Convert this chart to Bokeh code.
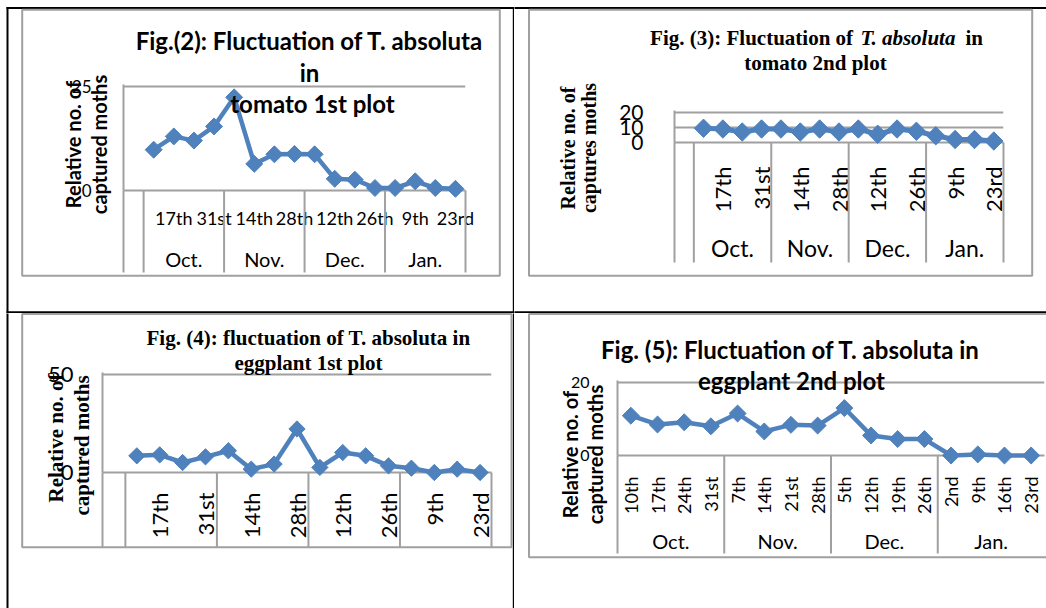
import numpy as np
from bokeh.plotting import figure
from bokeh.models import (FactorRange, Range1d, FixedTicker, Plot,
                          ColumnDataSource, CustomJSTickFormatter)
from bokeh.core.properties import value
from bokeh.layouts import column, row
from bokeh.embed import file_html
from bokeh.resources import INLINE

# ---------------- data ----------------
months = ["Oct.", "Nov.", "Dec.", "Jan."]
dates = ["10th", "17th", "24th", "31st", "7th", "14th", "21st", "28th",
         "5th", "12th", "19th", "26th", "2nd", "9th", "16th", "23rd"]
date_month = ["Oct."] * 4 + ["Nov."] * 4 + ["Dec."] * 4 + ["Jan."] * 4
shown_dates = ["17th", "31st", "14th", "28th", "12th", "26th", "9th", "23rd"]

tomato_1st = [9.8, 13.0, 12.0, 15.4, 22.4, 6.4, 8.7, 8.8, 8.7, 2.8, 2.6, 0.6, 0.6, 2.2, 0.6, 0.4]
tomato_2nd = [9.5, 9.0, 7.0, 9.0, 9.0, 7.0, 9.0, 7.0, 9.0, 5.5, 9.0, 7.5, 4.5, 2.0, 2.0, 1.0]
eggplant_1st = [8.5, 9.0, 5.1, 8.0, 11.1, 1.7, 4.3, 22.2, 2.6, 10.2, 8.5, 3.4, 2.2, 0.0, 1.7, 0.0]
eggplant_2nd = [10.9, 8.5, 9.1, 8.0, 11.5, 6.6, 8.4, 8.2, 13.0, 5.5, 4.5, 4.5, 0.0, 0.3, 0.0, 0.0]

yticks_tomato_1st = [0, 25]
yticks_tomato_2nd = [0, 10, 20]
yticks_eggplant_1st = [0, 50]
yticks_eggplant_2nd = [0, 20]

BLUE = "#4F81BD"
GRAY = "#a0a0a0"
SANS = "Lato"
SERIF = "Liberation Serif"

ALIGN_KW = {"frame_align": False} if "frame_align" in Plot.properties() else {}


def build(cfg):
    W, H = cfg["size"]
    fl, ft, fr, fb = cfg["frame"]
    ft_draw = ft - 2  # frame starts 2px above the top gridline so it is not clipped
    lead = [(" ", " ")] if cfg["blank"] else []
    cats = list(zip(date_month, dates))
    factors = lead + cats
    n = len(factors)
    xr = FactorRange(factors=factors, factor_padding=0, subgroup_padding=0,
                     group_padding=0, range_padding=0)
    yt = cfg["yticks"]
    ppu = (fb - ft) / (yt[-1] - yt[0])
    yr = Range1d(yt[0], yt[-1] + 2.0 / ppu)
    p = figure(width=W, height=H, x_range=xr, y_range=yr, output_backend="svg",
               toolbar_location=None, min_border_left=fl, min_border_right=W - fr,
               min_border_top=ft_draw, min_border_bottom=H - fb, **ALIGN_KW)
    p.outline_line_color = None
    p.background_fill_color = "white"
    p.border_fill_color = "white"
    # pixel-space y range for page furniture (frames, titles) around the plot area
    p.extra_y_ranges = {"py": Range1d(fb, ft_draw)}
    pxu = (fr - fl) / n  # pixels per category

    def X(cx):  # canvas pixel -> synthetic category coordinate
        return (cx - fl) / pxu

    def box(l, t, r, b, fill=None, line=None, lw=1):
        p.quad(left=[X(l)], right=[X(r)], top=[t], bottom=[b], y_range_name="py",
               fill_color=fill if fill else "white", fill_alpha=1 if fill else 0,
               line_color=line, line_width=lw, level="overlay")

    def text(t, cx, cy, font, size, style="bold", align="center", angle=0.0):
        p.text(x=[X(cx)], y=[cy], text=[t], y_range_name="py",
               text_font=value(font), text_font_size=value(f"{size}px"),
               text_font_style=value(style), text_color="black", text_align=value(align),
               text_baseline=value("middle"), angle=angle, level="overlay")

    # table lines and chart-area frame
    for (l, t, r, b) in cfg["black"]:
        box(l, t, r, b, fill="black")
    box(*cfg["chart_frame"], line=GRAY, lw=2)

    # grid / axes
    p.xgrid.visible = False
    p.ygrid.ticker = FixedTicker(ticks=yt[1:])
    p.ygrid.grid_line_color = GRAY
    p.ygrid.grid_line_width = 2

    yax = p.yaxis[0]
    yax.ticker = FixedTicker(ticks=yt)
    yax.axis_line_color = GRAY
    yax.axis_line_width = 2
    yax.major_tick_line_color = None
    yax.minor_tick_line_color = None
    yax.major_label_text_font = SANS
    yax.major_label_text_font_size = f"{cfg['ytick_size']}px"
    yax.major_label_text_color = "black"
    yax.major_label_standoff = cfg["ytick_standoff"]

    xax = p.xaxis[0]
    xax.axis_line_color = GRAY
    xax.axis_line_width = 2
    xax.major_tick_line_color = None
    xax.minor_tick_line_color = None
    xax.major_label_orientation = cfg["orient"]
    xax.major_label_text_font = SANS
    xax.major_label_text_font_size = f"{cfg['xtick_size']}px"
    xax.major_label_text_color = "black"
    xax.major_label_standoff = cfg["xtick_standoff"]
    xax.group_text_color = None
    xax.separator_line_color = None
    if cfg["skip"]:
        xax.formatter = CustomJSTickFormatter(
            args=dict(shown=shown_dates),
            code="return shown.indexOf(tick) >= 0 ? tick : '';")

    # category separators (vertical lines through the category-label area)
    first_idx = {m: date_month.index(m) + len(lead) for m in months}
    bounds = sorted(set([0] + [first_idx[m] for m in months] + ([n] if cfg["right_sep"] else [])))
    p.quad(left=[b - 1.0 / pxu for b in bounds], right=[b + 1.0 / pxu for b in bounds],
           top=[fb] * len(bounds), bottom=[cfg["sep_bottom"]] * len(bounds),
           y_range_name="py", fill_color=GRAY, line_color=None, level="overlay")

    # month (group) labels
    if cfg["month_y"] is not None:
        p.text(x=[first_idx[m] + date_month.count(m) / 2 for m in months],
               y=[cfg["month_y"]] * len(months), text=months, y_range_name="py",
               text_font=value(SANS), text_font_size=value(f"{cfg['month_size']}px"),
               text_color="black", text_align=value("center"), text_baseline=value("middle"),
               level="overlay")

    # series
    src = ColumnDataSource(dict(x=cats, y=cfg["values"]))
    p.line("x", "y", source=src, line_color=BLUE, line_width=cfg["lw"], level="overlay")
    p.scatter("x", "y", source=src, marker="square", angle=np.pi / 4, size=cfg["ms"],
              fill_color=BLUE, line_color=BLUE, level="overlay")

    # titles
    for (t, cx, cy, font, size, style, align) in cfg["titles"]:
        text(t, cx, cy, font, size, style, align)
    for (t, cx, cy, font, size) in cfg["ytitles"]:
        text(t, cx, cy, font, size, "bold", "center", np.pi / 2)
    return p


VERT = np.pi / 2

p1 = build(dict(
    size=(514, 313), frame=(123, 86, 465, 190), blank=True, values=tomato_1st,
    yticks=yticks_tomato_1st, ytick_size=17, ytick_standoff=26,
    orient="horizontal", xtick_size=18, xtick_standoff=10, skip=True,
    month_y=258, month_size=20, sep_bottom=272, right_sep=True,
    chart_frame=(21.7, 9.3, 499.3, 275.3),
    black=[(6, 6.5, 514, 8.5), (6, 6.5, 8, 313), (512.3, 6.5, 514, 313), (6, 310.7, 514, 313)],
    titles=[("Fig.(2): Fluctuation of T. absoluta", 309, 40, SANS, 24, "bold", "center"),
            ("in", 309, 72, SANS, 24, "bold", "center"),
            ("tomato 1st plot", 312, 103, SANS, 24, "bold", "center")],
    ytitles=[("Relative no. of", 72, 144, SANS, 20), ("captured moths", 98, 144, SANS, 20)],
    lw=4.5, ms=12))

p3 = build(dict(
    size=(532, 313), frame=(160, 112, 489, 142), blank=True, values=tomato_2nd,
    yticks=yticks_tomato_2nd, ytick_size=21, ytick_standoff=25,
    orient=VERT, xtick_size=22, xtick_standoff=18, skip=True,
    month_y=247, month_size=23, sep_bottom=262, right_sep=True,
    chart_frame=(14.5, 9.3, 517.7, 275.3),
    black=[(0, 6.5, 532, 8.5), (0, 310.7, 532, 313)],
    titles=[("Fig. (3): Fluctuation of", 338.6, 37, SERIF, 21, "bold", "right"),
            ("T. absoluta", 346, 37, SERIF, 21, "bold italic", "left"),
            ("in", 451, 37, SERIF, 21, "bold", "left"),
            ("tomato 2nd plot", 301, 62, SERIF, 21, "bold", "center")],
    ytitles=[("Relative no. of", 53.5, 147.5, SERIF, 20), ("captures moths", 74, 147.5, SERIF, 20)],
    lw=5, ms=13))

p4 = build(dict(
    size=(514, 295), frame=(102, 61, 491, 159), blank=True, values=eggplant_1st,
    yticks=yticks_eggplant_1st, ytick_size=22, ytick_standoff=23,
    orient=VERT, xtick_size=22, xtick_standoff=14, skip=True,
    month_y=None, month_size=18, sep_bottom=234, right_sep=True,
    chart_frame=(21.7, 0.5, 511, 233.7),
    black=[(6, 0, 8, 295), (512.3, 0, 514, 295)],
    titles=[("Fig. (4): fluctuation of T. absoluta in", 308, 24, SERIF, 21, "bold", "center"),
            ("eggplant 1st plot", 308, 49, SERIF, 21, "bold", "center")],
    ytitles=[("Relative no. of", 55, 124.5, SERIF, 21), ("captured moths", 81.7, 132, SERIF, 21)],
    lw=4.5, ms=11.5))

p5 = build(dict(
    size=(532, 295), frame=(103, 69, 530, 142), blank=False, values=eggplant_2nd,
    yticks=yticks_eggplant_2nd, ytick_size=16, ytick_standoff=22,
    orient=VERT, xtick_size=18, xtick_standoff=15, skip=False,
    month_y=227, month_size=20, sep_bottom=240, right_sep=False,
    chart_frame=(14.5, 0.5, 545, 243.7),
    black=[],
    titles=[("Fig. (5): Fluctuation of T. absoluta in", 276, 36, SANS, 24, "bold", "center"),
            ("eggplant 2nd plot", 277, 67, SANS, 24, "bold", "center")],
    ytitles=[("Relative no. of", 55, 141, SANS, 20), ("captured moths", 80.6, 141, SANS, 20)],
    lw=4.5, ms=12))

layout = column(row(p1, p3), row(p4, p5))
open("out.html", "w").write(file_html(layout, INLINE))
